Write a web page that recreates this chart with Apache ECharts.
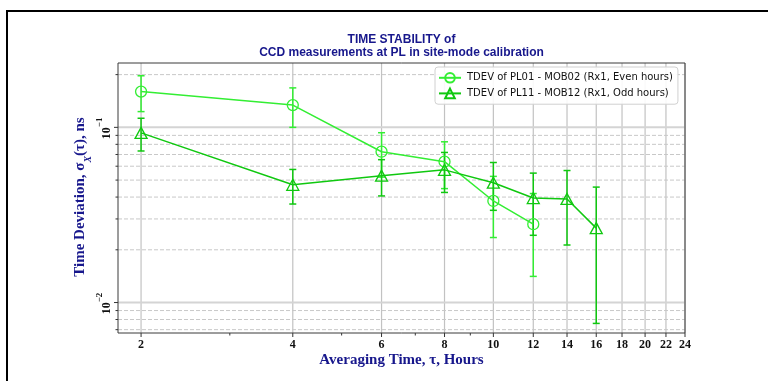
<!DOCTYPE html>
<html><head><meta charset="utf-8">
<script src="https://cdn.jsdelivr.net/npm/echarts@6/dist/echarts.min.js"></script>
<style>html,body{margin:0;padding:0;background:#fff}#c{width:768px;height:381px}</style>
</head><body><div id="c"></div>
<script>
// ---------- data ----------
const tauEven = [2, 4, 6, 8, 10, 12];
const tdevEven = [0.160, 0.134, 0.0726, 0.0637, 0.038, 0.028];
const errEven = [0.037, 0.034, 0.0206, 0.019, 0.0145, 0.0139];

const tauOdd = [2, 4, 6, 8, 10, 12, 14, 16];
const tdevOdd = [0.093, 0.047, 0.053, 0.0572, 0.0483, 0.0395, 0.039, 0.0266];
const errOdd = [0.0197, 0.0105, 0.0124, 0.0147, 0.0147, 0.0153, 0.0177, 0.019];

const nameEven = 'TDEV of PL01 - MOB02 (Rx1, Even hours)';
const nameOdd = 'TDEV of PL11 - MOB12 (Rx1, Odd hours)';

const xMajorTicks = [2, 4, 6, 8, 10, 12, 14, 16, 18, 20, 22, 24];
const xMajorLabels = ['2', '4', '6', '8', '10', '12', '14', '16', '18', '20', '22', '24'];
const xMinorTicks = [3, 5, 7, 9];
const yMajorTicks = [0.01, 0.1];
const yMajorExp = ['\u22122', '\u22121'];
const yMinorTicks = [0.007, 0.008, 0.009, 0.02, 0.03, 0.04, 0.05, 0.06, 0.07, 0.08, 0.09, 0.2];
const xRange = [1.8, 24];
const yRange = [0.0067, 0.233];

// ---------- styling ----------
const SERIF = "'Liberation Serif', 'Times New Roman', serif";
const SANS = "'Liberation Sans', Arial, sans-serif";
const NAVY = '#17178c';
const C_EVEN = '#33ee33';
const C_ODD = '#10c810';

const chart = echarts.init(document.getElementById('c'), null, { renderer: 'canvas' });

function xMajorItem(params, api) {
  const v = api.value(0);
  const b = api.coord([v, yRange[0]]);
  const t = api.coord([v, yRange[1]]);
  return { type: 'group', children: [
    { type: 'line', shape: { x1: b[0], y1: b[1], x2: t[0], y2: t[1] }, style: { stroke: '#c2c2c2', lineWidth: 1.2 } },
    { type: 'line', shape: { x1: b[0], y1: b[1], x2: b[0], y2: b[1] + 4 }, style: { stroke: '#333', lineWidth: 1 } },
    { type: 'text', x: b[0], y: b[1] + 12, style: { text: xMajorLabels[params.dataIndex], fontFamily: SERIF, fontWeight: 'bold', fontSize: 12, fill: '#111', align: 'center', verticalAlign: 'middle' } }
  ] };
}
function xMinorItem(params, api) {
  const b = api.coord([api.value(0), yRange[0]]);
  return { type: 'line', shape: { x1: b[0], y1: b[1], x2: b[0], y2: b[1] + 2.5 }, style: { stroke: '#333', lineWidth: 1 } };
}
function yMajorItem(params, api) {
  const v = api.value(1);
  const l = api.coord([xRange[0], v]);
  const r = api.coord([xRange[1], v]);
  return { type: 'group', children: [
    { type: 'line', shape: { x1: l[0], y1: l[1], x2: r[0], y2: r[1] }, style: { stroke: '#d4d4d4', lineWidth: 2 } },
    { type: 'line', shape: { x1: l[0] - 4, y1: l[1], x2: l[0], y2: l[1] }, style: { stroke: '#333', lineWidth: 1 } },
    { type: 'text', x: l[0] - 14, y: l[1] + 1, rotation: Math.PI / 2, style: {
      text: '{b|10}{s|' + yMajorExp[params.dataIndex] + '}',
      align: 'center', verticalAlign: 'middle',
      rich: {
        b: { fontFamily: SERIF, fontWeight: 'bold', fontSize: 12, fill: '#111', lineHeight: 18, verticalAlign: 'bottom' },
        s: { fontFamily: SERIF, fontWeight: 'bold', fontSize: 9, fill: '#111', lineHeight: 18, verticalAlign: 'top' }
      } } }
  ] };
}
function yMinorItem(params, api) {
  const v = api.value(1);
  const l = api.coord([xRange[0], v]);
  const r = api.coord([xRange[1], v]);
  return { type: 'group', children: [
    { type: 'line', shape: { x1: l[0], y1: l[1], x2: r[0], y2: r[1] }, style: { stroke: '#c8c8c8', lineWidth: 1, lineDash: [4, 2] } },
    { type: 'line', shape: { x1: l[0] - 2.5, y1: l[1], x2: l[0], y2: l[1] }, style: { stroke: '#333', lineWidth: 1 } }
  ] };
}
function errItem(color) {
  return function (params, api) {
    const x = api.value(0), v = api.value(1), e = api.value(2);
    const hi = api.coord([x, v + e]);
    const lo = api.coord([x, v - e]);
    const st = { stroke: color, lineWidth: 1.5 };
    return { type: 'group', children: [
      { type: 'line', shape: { x1: hi[0], y1: hi[1], x2: lo[0], y2: lo[1] }, style: st },
      { type: 'line', shape: { x1: hi[0] - 3.5, y1: hi[1], x2: hi[0] + 3.5, y2: hi[1] }, style: st },
      { type: 'line', shape: { x1: lo[0] - 3.5, y1: lo[1], x2: lo[0] + 3.5, y2: lo[1] }, style: st }
    ] };
  };
}

const option = {
  animation: false,
  grid: { left: 118, top: 63, right: 83, bottom: 48, show: true, borderColor: '#3a3a3a', borderWidth: 1, backgroundColor: 'transparent', z: 5 },
  xAxis: { type: 'log', logBase: 10, min: xRange[0], max: xRange[1],
    axisLine: { show: false }, axisTick: { show: false }, axisLabel: { show: false }, splitLine: { show: false }, minorSplitLine: { show: false } },
  yAxis: { type: 'log', logBase: 10, min: yRange[0], max: yRange[1],
    axisLine: { show: false }, axisTick: { show: false }, axisLabel: { show: false }, splitLine: { show: false }, minorSplitLine: { show: false } },
  legend: {
    data: [nameEven, nameOdd], orient: 'vertical', left: 435, top: 67,
    padding: [5, 5, 5, 3], itemGap: 4, itemWidth: 22, itemHeight: 12,
    backgroundColor: 'rgba(255,255,255,0.9)', borderColor: '#d0d0d0', borderWidth: 1, borderRadius: 3,
    textStyle: { fontFamily: "'DejaVu Sans', sans-serif", fontSize: 10, color: '#111', padding: [0, 0, 0, 1] },
    z: 20
  },
  graphic: [
    { type: 'rect', shape: { x: 7, y: 11, width: 800, height: 420 }, style: { fill: 'none', stroke: '#000', lineWidth: 2 }, silent: true },
    { type: 'text', x: 401.5, y: 39.5, style: { text: 'TIME STABILITY of', fontFamily: SANS, fontWeight: 'bold', fontSize: 12, fill: NAVY, align: 'center', verticalAlign: 'middle' } },
    { type: 'text', x: 401.5, y: 53, style: { text: 'CCD measurements at PL in site-mode calibration', fontFamily: SANS, fontWeight: 'bold', fontSize: 12, fill: NAVY, align: 'center', verticalAlign: 'middle' } },
    { type: 'text', x: 401.5, y: 360, style: { text: 'Averaging Time, \u03c4, Hours', fontFamily: SERIF, fontWeight: 'bold', fontSize: 15, fill: NAVY, align: 'center', verticalAlign: 'middle' } },
    { type: 'text', x: 83, y: 197, rotation: Math.PI / 2, style: {
      text: '{n|Time Deviation, \u03c3}{i|X}{n|(\u03c4), ns}', align: 'center', verticalAlign: 'middle',
      rich: {
        n: { fontFamily: SERIF, fontWeight: 'bold', fontSize: 15, fill: NAVY, lineHeight: 20, verticalAlign: 'top' },
        i: { fontFamily: SERIF, fontWeight: 'bold', fontStyle: 'italic', fontSize: 10, fill: NAVY, lineHeight: 20, verticalAlign: 'bottom' }
      } } }
  ],
  series: [
    { type: 'custom', silent: true, z: 1, renderItem: xMajorItem, data: xMajorTicks.map(v => [v, yRange[0]]) },
    { type: 'custom', silent: true, z: 1, renderItem: xMinorItem, data: xMinorTicks.map(v => [v, yRange[0]]) },
    { type: 'custom', silent: true, z: 1, renderItem: yMajorItem, data: yMajorTicks.map(v => [xRange[0], v]) },
    { type: 'custom', silent: true, z: 1, renderItem: yMinorItem, data: yMinorTicks.map(v => [xRange[0], v]) },
    { type: 'custom', silent: true, z: 3, renderItem: errItem(C_EVEN), data: tauEven.map((t, i) => [t, tdevEven[i], errEven[i]]) },
    { type: 'custom', silent: true, z: 3, renderItem: errItem(C_ODD), data: tauOdd.map((t, i) => [t, tdevOdd[i], errOdd[i]]) },
    { type: 'line', name: nameEven, z: 4, data: tauEven.map((t, i) => [t, tdevEven[i]]),
      symbol: 'circle', symbolSize: 11, showAllSymbol: true,
      lineStyle: { color: C_EVEN, width: 1.5 },
      itemStyle: { color: 'rgba(255,255,255,0)', borderColor: C_EVEN, borderWidth: 1.3 } },
    { type: 'line', name: nameOdd, z: 4, data: tauOdd.map((t, i) => [t, tdevOdd[i]]),
      symbol: 'triangle', symbolSize: [12, 11], showAllSymbol: true,
      lineStyle: { color: C_ODD, width: 1.5 },
      itemStyle: { color: 'rgba(255,255,255,0)', borderColor: C_ODD, borderWidth: 1.3 } }
  ]
};
chart.setOption(option);
</script></body></html>
